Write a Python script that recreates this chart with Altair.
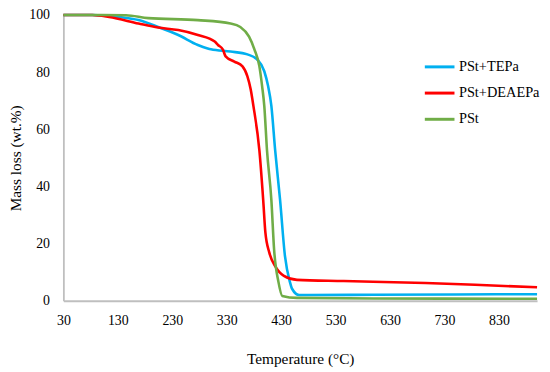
import altair as alt
import pandas as pd

# PSt+TEPa (blue)
tepa_t = [30, 83, 132, 168, 204, 241, 277, 295, 301, 337, 368, 386, 399, 406, 412, 419, 428, 437, 446, 450, 463, 480, 600, 750, 900]
tepa_m = [100, 100, 99.3, 98.2, 95.8, 93.0, 89.5, 88.3, 88.0, 87.2, 86.2, 84.4, 80.3, 75.1, 68.2, 52.6, 35.3, 15.6, 6.6, 4.2, 2.0, 2.0, 2.1, 2.2, 2.3]

# PSt+DEAEPa (red)
deaepa_t = [30, 83, 114, 168, 204, 241, 277, 308, 314, 323, 328, 344, 359, 368, 374, 379, 390, 397, 401, 408, 419, 435, 459, 545, 695, 786, 900]
deaepa_m = [100, 100, 99.3, 97.0, 95.6, 94.7, 93.0, 90.7, 89.5, 87.9, 85.5, 83.7, 82.0, 78.5, 74.0, 68.2, 52.6, 35.3, 23.9, 17.0, 12.1, 8.7, 7.3, 6.9, 6.2, 5.6, 4.7]

# PSt (green)
pst_t = [30, 100, 145, 186, 277, 337, 355, 371, 381, 390, 395, 399, 404, 412, 417, 425, 432, 459, 600, 900]
pst_m = [100, 100, 99.9, 98.9, 98.2, 97.0, 95.8, 92.4, 87.9, 82.0, 75.1, 68.2, 52.6, 35.3, 18.0, 6.6, 1.7, 1.0, 0.8, 0.7]

series_names = ["PSt+TEPa", "PSt+DEAEPa", "PSt"]
series_colors = ["#00B0F0", "#FF0000", "#70AD47"]
x_ticks = [30, 130, 230, 330, 430, 530, 630, 730, 830]
y_ticks = [0, 20, 40, 60, 80, 100]

rows = []
for name, ts, ms in zip(series_names, [tepa_t, deaepa_t, pst_t], [tepa_m, deaepa_m, pst_m]):
    for i, (t, m) in enumerate(zip(ts, ms)):
        rows.append({"series": name, "T": t, "mass": m, "order": i})
df = pd.DataFrame(rows)

FONT = "Liberation Serif"

chart = alt.Chart(df).mark_line(strokeWidth=2.6, interpolate="monotone").encode(
    x=alt.X("T:Q",
            scale=alt.Scale(domain=[30, 900], nice=False, zero=False),
            axis=alt.Axis(values=x_ticks, title="Temperature (°C)", grid=False, ticks=False,
                          labelPadding=13, titlePadding=24, labelFontSize=14, titleFontSize=15.5,
                          titleFontWeight="normal", labelFlush=False)),
    y=alt.Y("mass:Q",
            scale=alt.Scale(domain=[0, 100], nice=False),
            axis=alt.Axis(values=y_ticks, title="Mass loss (wt.%)", grid=False, ticks=False,
                          labelPadding=14, titlePadding=5, labelFontSize=14, titleFontSize=15.5,
                          titleFontWeight="normal")),
    color=alt.Color("series:N",
                    scale=alt.Scale(domain=series_names, range=series_colors),
                    sort=series_names,
                    legend=alt.Legend(title=None, orient="none", legendX=364, legendY=36,
                                      symbolType="stroke", symbolSize=900, symbolStrokeWidth=3,
                                      labelFontSize=14.5, labelOffset=3, rowPadding=3.5, padding=0)),
    detail="series:N",
    order="order:Q",
).properties(
    width=479, height=289,
    autosize=alt.AutoSizeParams(type="none"),
    padding={"left": 56, "top": 5, "right": 5, "bottom": 69},
).configure_view(stroke=None).configure_axis(
    domainColor="#BFBFBF", domainWidth=1.8, labelColor="#000000", titleColor="#000000",
    labelFont=FONT, titleFont=FONT,
).configure_legend(labelFont=FONT, labelColor="#000000")

chart.save("out.html", embed_options={"renderer": "svg", "actions": False})
